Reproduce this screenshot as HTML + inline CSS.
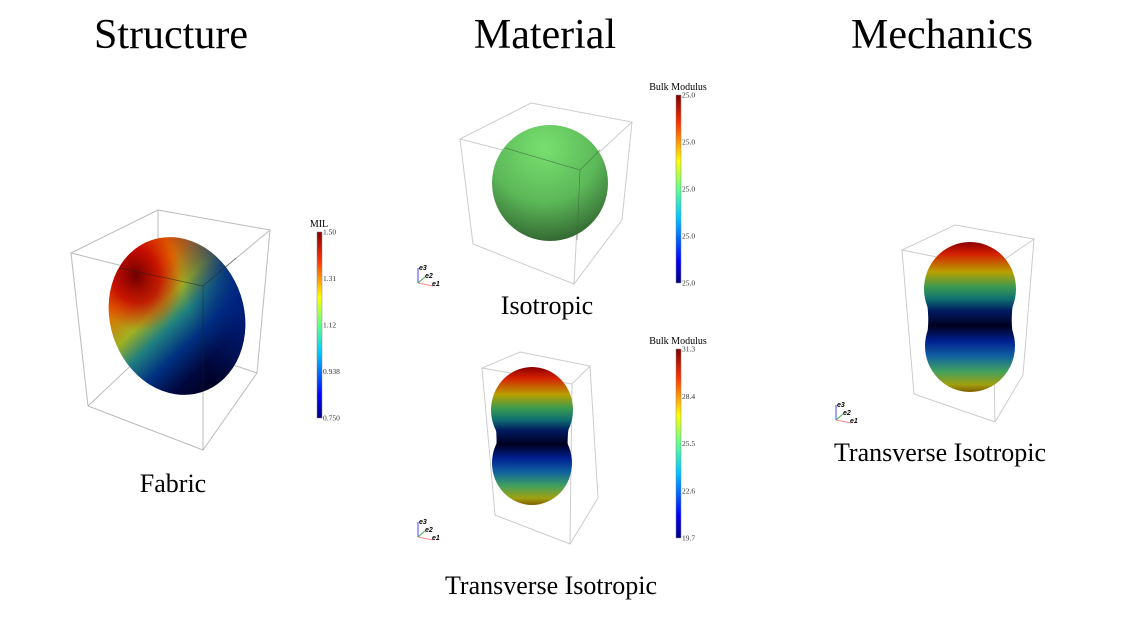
<!DOCTYPE html>
<html><head><meta charset="utf-8"><style>
html,body{margin:0;padding:0;background:#fff;}
svg{display:block;font-family:"Liberation Serif",serif;}
</style></head><body>
<svg id="fig" width="1123" height="624" viewBox="0 0 1123 624">
<defs>
<linearGradient id="jet" x1="0" y1="1" x2="0" y2="0">
<stop offset="0" stop-color="#00007f"/><stop offset="0.12" stop-color="#0000ff"/><stop offset="0.35" stop-color="#00c8ff"/><stop offset="0.5" stop-color="#60ff90"/><stop offset="0.65" stop-color="#ffff00"/><stop offset="0.85" stop-color="#ff3000"/><stop offset="1" stop-color="#7f0000"/>
</linearGradient>
<linearGradient id="peanut1" gradientUnits="userSpaceOnUse" x1="0" y1="367" x2="0" y2="505">
<stop offset="0" stop-color="#8b0000"/><stop offset="0.08" stop-color="#d42000"/><stop offset="0.2" stop-color="#b8a000"/><stop offset="0.3" stop-color="#3a9a50"/><stop offset="0.38" stop-color="#107070"/><stop offset="0.46" stop-color="#001a60"/><stop offset="0.56" stop-color="#000020"/><stop offset="0.66" stop-color="#002090"/><stop offset="0.76" stop-color="#1060a0"/><stop offset="0.86" stop-color="#40a060"/><stop offset="0.95" stop-color="#a0a010"/><stop offset="1" stop-color="#806000"/>
</linearGradient>
<linearGradient id="peanut2" gradientUnits="userSpaceOnUse" x1="0" y1="242" x2="0" y2="392">
<stop offset="0" stop-color="#8b0000"/><stop offset="0.08" stop-color="#d42000"/><stop offset="0.2" stop-color="#b8a000"/><stop offset="0.3" stop-color="#3a9a50"/><stop offset="0.38" stop-color="#107070"/><stop offset="0.46" stop-color="#001a60"/><stop offset="0.56" stop-color="#000020"/><stop offset="0.66" stop-color="#002090"/><stop offset="0.76" stop-color="#1060a0"/><stop offset="0.86" stop-color="#40a060"/><stop offset="0.95" stop-color="#a0a010"/><stop offset="1" stop-color="#806000"/>
</linearGradient>
<radialGradient id="green" cx="0.45" cy="0.2" r="0.85">
<stop offset="0" stop-color="#78e070"/><stop offset="0.55" stop-color="#5cb858"/><stop offset="1" stop-color="#2e5e2e"/>
</radialGradient>
<linearGradient id="fabLin" x1="0.2" y1="0" x2="0.6" y2="1">
<stop offset="0" stop-color="#d02000"/><stop offset="0.25" stop-color="#e07000"/><stop offset="0.42" stop-color="#a0b020"/><stop offset="0.55" stop-color="#208080"/><stop offset="0.7" stop-color="#003080"/><stop offset="0.85" stop-color="#000840"/><stop offset="1" stop-color="#000020"/>
</linearGradient>
<radialGradient id="fabHot" cx="0.3" cy="0.18" r="0.35">
<stop offset="0" stop-color="#700000"/><stop offset="0.5" stop-color="#c00000" stop-opacity="0.8"/><stop offset="1" stop-color="#e02000" stop-opacity="0"/>
</radialGradient>
<linearGradient id="fabRight" x1="0" y1="0" x2="1" y2="0">
<stop offset="0.6" stop-color="#002080" stop-opacity="0"/><stop offset="1" stop-color="#002080" stop-opacity="0.85"/>
</linearGradient>
</defs>

<text x="171" y="48" font-size="42" text-anchor="middle">Structure</text>
<text x="545" y="48" font-size="42" text-anchor="middle">Material</text>
<text x="942" y="48" font-size="42" text-anchor="middle">Mechanics</text>

<g stroke="#bbb" stroke-width="1" fill="none">
<path d="M158,210 L270,230 L203,286 L71,253 Z"/>
<path d="M71,253 L88,406 L203,450 L257,373 L270,230"/>
<path d="M203,286 L203,450"/>
<path d="M158,210 L158,340 L88,406 M158,340 L257,373"/>
</g>
<g transform="rotate(-18 177 316)">
<ellipse cx="177" cy="316" rx="67" ry="80" fill="url(#fabLin)"/>
<ellipse cx="177" cy="316" rx="67" ry="80" fill="url(#fabHot)"/>
<ellipse cx="177" cy="316" rx="67" ry="80" fill="url(#fabRight)"/>
</g>
<path d="M203,286 L203,390 M120,268 L203,286 L236,258" stroke="#222" stroke-width="0.7" opacity="0.6" fill="none"/>
<text x="173" y="492" font-size="26" text-anchor="middle">Fabric</text>

<g stroke="#ccc" stroke-width="1" fill="none">
<path d="M531,103 L632,122 L580,170 L460,139 Z"/>
<path d="M460,139 L473,244 L574,284 L622,220 L632,122"/>
<path d="M580,170 L574,284"/>
</g>
<circle cx="550" cy="183" r="58" fill="url(#green)"/>
<path d="M580,170 L577,240 M505,148 L580,170 L600,150" stroke="#3a6a3a" stroke-width="0.7" fill="none" opacity="0.7"/>
<text x="547" y="314" font-size="26" text-anchor="middle">Isotropic</text>

<g stroke="#ccc" stroke-width="1" fill="none">
<path d="M520,352 L590,366 L572,384 L482,368 Z"/>
<path d="M482,368 L495,515 L570,544 L598,498 L590,366"/>
<path d="M572,384 L570,544"/>
</g>
<g>
<ellipse cx="532" cy="410" rx="41" ry="43" fill="url(#peanut1)"/>
<ellipse cx="532" cy="463" rx="40" ry="42" fill="url(#peanut1)"/>
<path d="M492,410 Q500,436 494,463 L570,463 Q564,436 573,410 Z" fill="url(#peanut1)"/>
</g>
<text x="551" y="594" font-size="26" text-anchor="middle">Transverse Isotropic</text>

<g stroke="#ccc" stroke-width="1" fill="none">
<path d="M955,225 L1034,239 L992,268 L902,250 Z"/>
<path d="M902,250 L914,394 L995,422 L1023,375 L1034,239"/>
<path d="M992,268 L995,422"/>
</g>
<g>
<ellipse cx="970" cy="289" rx="46" ry="47" fill="url(#peanut2)"/>
<ellipse cx="970" cy="346" rx="45" ry="46" fill="url(#peanut2)"/>
<path d="M924,289 Q932,318 925,346 L1015,346 Q1008,318 1016,289 Z" fill="url(#peanut2)"/>
</g>
<text x="940" y="461" font-size="26" text-anchor="middle">Transverse Isotropic</text>

<g id="colorbars"></g>
<g id="triads"></g>
</svg>
<script>
const milTicks = ["1.50","1.31","1.12","0.938","0.750"];
const bulkIsoTicks = ["25.0","25.0","25.0","25.0","25.0"];
const bulkTransTicks = ["31.3","28.4","25.5","22.6","19.7"];
const NS = "http://www.w3.org/2000/svg";
const cbRoot = document.getElementById("colorbars");
function mk(tag, attrs, parent){const e=document.createElementNS(NS,tag);for(const k in attrs)e.setAttribute(k,attrs[k]);parent.appendChild(e);return e;}
function colorbar(x, y0, y1, title, ticks, name){
  const g = mk("g", {}, cbRoot);
  
  
  mk("rect", {x:x, y:y0, width:5, height:y1-y0, fill:"url(#jet)", stroke:"#888", "stroke-width":0.5}, g);
  const t = mk("text", {x:x+2, y:y0-5, "font-size":10, "text-anchor":"middle"}, g);
  t.textContent = title;
  ticks.forEach((v,i)=>{
    const yy = y0 + (y1-y0)*i/(ticks.length-1);
    const tt = mk("text", {x:x+6, y:yy+2.5, "font-size":7.5, fill:"#333"}, g);
    
    
    tt.textContent = v;
  });
}
colorbar(317, 232, 418, "MIL", milTicks, "mil-colorbar");
colorbar(676, 95, 283, "Bulk Modulus", bulkIsoTicks, "bulk-iso-colorbar");
colorbar(676, 349, 538, "Bulk Modulus", bulkTransTicks, "bulk-trans-colorbar");
const tr = document.getElementById("triads");
[[418,283],[418,537],[836,420]].forEach(([x,y])=>{
  const g = mk("g", {}, tr);
  
  
  mk("line",{x1:x,y1:y,x2:x,y2:y-15,stroke:"#44f","stroke-width":1},g);
  mk("line",{x1:x,y1:y,x2:x+15,y2:y+3,stroke:"#f88","stroke-width":1},g);
  mk("line",{x1:x,y1:y,x2:x+7,y2:y-6,stroke:"#4a4","stroke-width":1},g);
  [["e3",x+1,y-13],["e2",x+7,y-5],["e1",x+14,y+3]].forEach(([s,a,b])=>{
    const t=mk("text",{x:a,y:b,"font-size":7,"font-style":"italic","font-weight":"bold","font-family":"Liberation Sans, sans-serif"},g);t.textContent=s;});
});
</script>
</body></html>
